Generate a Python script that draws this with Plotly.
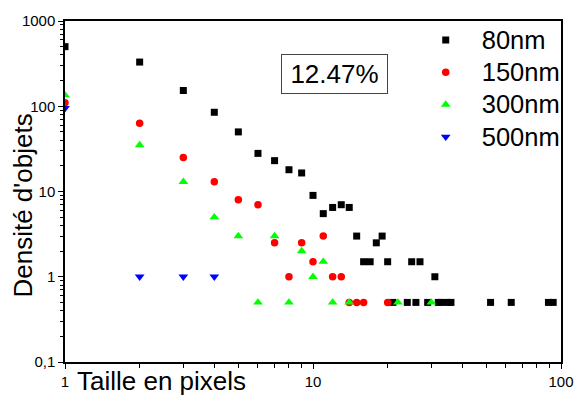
import plotly.graph_objects as go

# ---- data ----
x80 = [1, 2, 3, 4, 5, 6, 7, 8, 9, 10, 11, 12, 13, 14, 15, 16, 17, 18, 19, 20, 25, 27, 31,
       21, 24, 26, 29, 32, 33, 35, 36, 52, 63, 89, 93]
y80 = [500, 330, 153, 85, 50, 28, 23, 18, 16.5, 9, 5.5, 6.5, 7, 6.5, 3, 1.5, 1.5, 2.5, 3, 1.5, 1.5, 1.5, 1,
       0.5, 0.5, 0.5, 0.5, 0.5, 0.5, 0.5, 0.5, 0.5, 0.5, 0.5, 0.5]

x150 = [1, 2, 3, 4, 5, 6, 7, 8, 9, 10, 11, 12, 13, 14, 15, 16, 20]
y150 = [110, 63, 25, 13, 8, 7, 2.5, 1, 2.5, 1.5, 3, 1, 1, 0.5, 0.5, 0.5, 0.5]

x300 = [1, 2, 3, 4, 5, 6, 7, 8, 9, 10, 11, 12, 14, 22, 30]
y300 = [135, 35, 13, 5, 3, 0.5, 3, 0.5, 2, 1, 1.5, 0.5, 0.5, 0.5, 0.5]

x500 = [1, 2, 3, 4]
y500 = [95, 1, 1, 1]

series_names = ["80nm", "150nm", "300nm", "500nm"]

y_tickvals = [0.1, 1, 10, 100, 1000]
y_ticktext = ["0,1", "1", "10", "100", "1000"]
x_tickvals = [1, 10, 100]
x_ticktext = ["1", "10", "100"]

annotation_text = "12.47%"
x_title = "Taille en pixels"
y_title = "Densité d'objets"

FONT = "Liberation Sans, Arial, sans-serif"

fig = go.Figure()
styles = [
    dict(symbol="square", color="#000000", size=7),
    dict(symbol="circle", color="#FF0000", size=7.5),
    dict(symbol="triangle-up", color="#00FF00", size=8.5),
    dict(symbol="triangle-down", color="#0000FF", size=8.5),
]
for name, xs, ys, st in zip(series_names, [x80, x150, x300, x500], [y80, y150, y300, y500], styles):
    fig.add_trace(go.Scatter(
        x=xs, y=ys, mode="markers",
        name='<span style="font-size:25.5px">' + name + "</span>",
        marker=dict(symbol=st["symbol"], color=st["color"], size=st["size"], line=dict(width=0)),
    ))

minor_vals_x = [m * 10 ** e for e in range(0, 2) for m in range(2, 10)]
minor_vals_y = [m * 10 ** e for e in range(-1, 3) for m in range(2, 10)]

axis_common = dict(
    type="log", showline=True, linecolor="black", linewidth=1.5, mirror=True,
    ticks="outside", ticklen=5, tickwidth=1, tickcolor="black",
    showgrid=False, zeroline=False,
    tickfont=dict(family=FONT, size=15, color="black"),
)

fig.update_xaxes(
    **axis_common, range=[0, 2], tickmode="array", tickvals=x_tickvals, ticktext=x_ticktext,
    minor=dict(tickmode="array", tickvals=minor_vals_x, ticks="outside", ticklen=4, tickcolor="black", showgrid=False),
)
fig.update_yaxes(
    **axis_common, range=[-1, 3], tickmode="array", tickvals=y_tickvals, ticktext=y_ticktext,
    minor=dict(tickmode="array", tickvals=minor_vals_y, ticks="outside", ticklen=3, tickcolor="black", showgrid=False),
)

fig.add_annotation(
    text=annotation_text, xref="paper", yref="paper", x=0.5432, y=0.8432,
    xanchor="center", yanchor="middle", showarrow=False,
    font=dict(family=FONT, size=26, color="black"),
    bordercolor="#444444", borderwidth=1, width=103, height=36, bgcolor="white",
)
fig.add_annotation(
    text=x_title, xref="paper", yref="paper", x=0.0195, y=-0.0557,
    xanchor="left", yanchor="middle", showarrow=False,
    font=dict(family=FONT, size=26, color="black"),
)
fig.add_annotation(
    text=y_title, xref="paper", yref="paper", x=-0.085, y=0.4584,
    xanchor="center", yanchor="middle", showarrow=False, textangle=-90,
    font=dict(family=FONT, size=26, color="black"),
)

fig.update_layout(
    width=586, height=402,
    margin=dict(l=65, r=23, t=16, b=39),
    paper_bgcolor="white", plot_bgcolor="white",
    showlegend=True,
    legend=dict(
        x=0.695, y=1.006, xanchor="left", yanchor="top",
        bgcolor="rgba(0,0,0,0)", borderwidth=0,
        font=dict(family=FONT, size=22.5, color="black"),
        itemwidth=62, tracegroupgap=0,
    ),
)

fig.write_html("out.html", post_script="document.body.style.margin='0';",
               config={"displayModeBar": False})
